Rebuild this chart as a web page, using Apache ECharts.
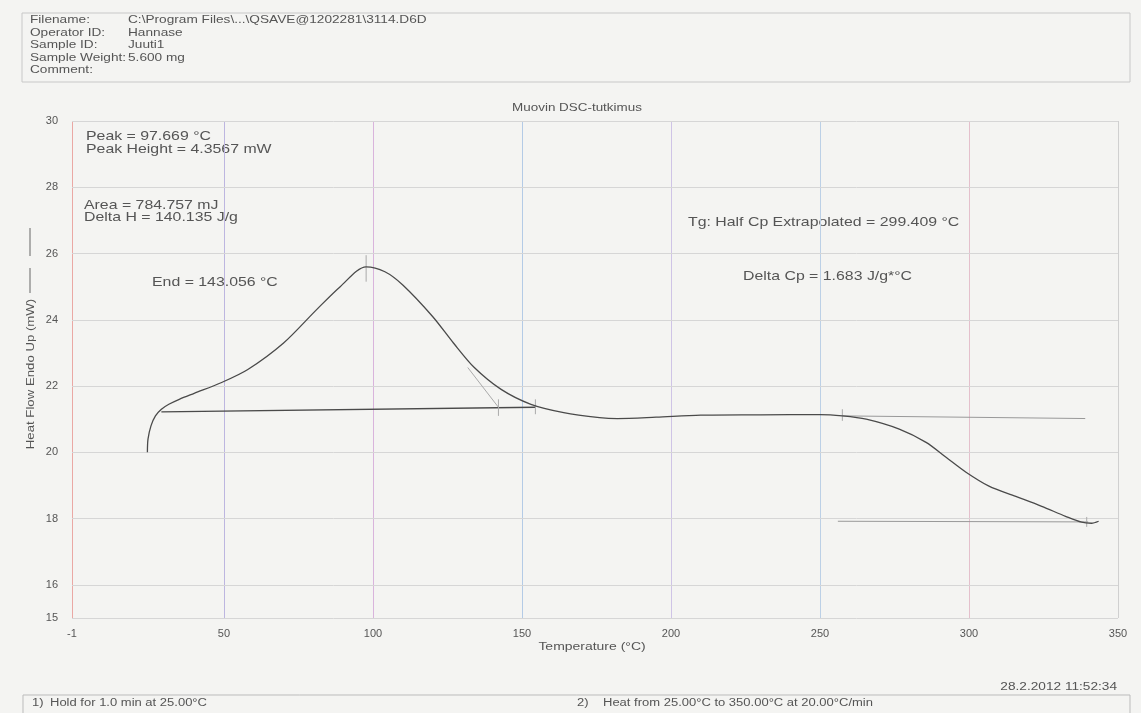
<!DOCTYPE html>
<html>
<head>
<meta charset="utf-8">
<title>Muovin DSC-tutkimus</title>
<script src="https://cdn.jsdelivr.net/npm/echarts@6/dist/echarts.min.js"></script>
<style>
  html, body { margin: 0; padding: 0; background: #f4f4f2; }
  #chart { width: 1141px; height: 713px; }
</style>
</head>
<body>
<div id="chart"></div>
<script>
// heat flow curve (temperature °C, heat flow mW)
var temps = [24.3, 24.5, 25.5, 27, 29, 31.5, 35, 40, 49, 58, 70, 81, 89, 97.7, 104, 110, 120, 127, 134, 143, 153, 164, 176, 182, 195, 210, 230, 250, 257.5, 265.5, 276.6, 285.6, 292.3, 299, 306.7, 315.7, 324.4, 332.4, 337.8, 341.1, 343.5];
var flow = [20.0, 20.4, 20.8, 21.1, 21.3, 21.45, 21.6, 21.78, 22.1, 22.5, 23.3, 24.3, 25.0, 25.6, 25.45, 25.05, 24.1, 23.3, 22.56, 21.9, 21.45, 21.2, 21.05, 21.02, 21.06, 21.12, 21.13, 21.14, 21.1, 21.0, 20.7, 20.3, 19.85, 19.4, 18.98, 18.67, 18.37, 18.07, 17.89, 17.86, 17.92];

// analysis construction lines
var baseline = [[29, 21.22], [154.5, 21.36]];
var endTangent = [[131.8, 22.56], [142.1, 21.36]];
var tgUpper = [[257.5, 21.1], [339, 21.02]];
var tgLower = [[256, 17.92], [340, 17.9]];
var markerTicks = [[97.7, 25.15, 25.95], [142.1, 21.1, 21.6], [154.5, 21.15, 21.6], [257.5, 20.95, 21.3], [339.5, 17.75, 18.05]];

var xTicks = [-1, 50, 100, 150, 200, 250, 300, 350];
var yTicks = [15, 16, 18, 20, 22, 24, 26, 28, 30];
var vGridColors = ['#eaa8a4', '#bdb6e0', '#d9b4dc', '#b4cbe6', '#cfc4e6', '#bcd0e6', '#e4c0cc', '#d0d0d0'];

var headerLabels = ['Filename:', 'Operator ID:', 'Sample ID:', 'Sample Weight:', 'Comment:'];
var headerValues = ['C:\\Program Files\\...\\QSAVE@1202281\\3114.D6D', 'Hannase', 'Juuti1', '5.600 mg', ''];

var font = 'Liberation Sans, Arial, sans-serif';
var textColor = '#555';
var stretch = 1.3; // the printout is stretched horizontally

var myEcharts = echarts.init(document.getElementById('chart'));

var curveData = temps.map(function (t, i) { return [t, flow[i]]; });

var tickSeries = markerTicks.map(function (m) {
  return {
    type: 'line', data: [[m[0], m[1]], [m[0], m[2]]], symbol: 'none', silent: true,
    lineStyle: { color: '#aaa', width: 1 }
  };
});

var gridLinesX = xTicks.map(function (v, i) {
  return { xAxis: v, lineStyle: { color: vGridColors[i], width: 1, type: 'solid' } };
});
var gridLinesY = yTicks.map(function (v) {
  return { yAxis: v, lineStyle: { color: '#d6d6d6', width: 1, type: 'solid' } };
});

function txt(s, x, y, size, align, vAlign, sx) {
  return {
    type: 'text', x: x, y: y, scaleX: sx || stretch, silent: true,
    style: { text: s, font: size + 'px ' + font, fill: textColor, align: align || 'left', verticalAlign: vAlign || 'top' }
  };
}

var graphics = [];
// header box
graphics.push({ type: 'rect', shape: { x: 22, y: 13, width: 1108, height: 69 }, style: { fill: 'none', stroke: '#c8c8c8', lineWidth: 1 } });
headerLabels.forEach(function (l, i) {
  graphics.push(txt(l, 30, 15 + i * 12.5, 10.5));
  graphics.push(txt(headerValues[i], 128, 15 + i * 12.5, 10.5));
});
// title
graphics.push(txt('Muovin DSC-tutkimus', 577, 108, 11, 'center', 'middle', 1.22));
// y axis name and legend marks
graphics.push({ type: 'line', shape: { x1: 30, y1: 228, x2: 30, y2: 256 }, style: { stroke: '#666', lineWidth: 1 } });
graphics.push({ type: 'line', shape: { x1: 30, y1: 268, x2: 30, y2: 293 }, style: { stroke: '#666', lineWidth: 1 } });
var yName = txt('Heat Flow Endo Up (mW)', 31, 374, 11, 'center', 'middle', 1.2);
yName.rotation = Math.PI / 2;
graphics.push(yName);
// x axis name
graphics.push(txt('Temperature (°C)', 592, 647, 10.5, 'center', 'middle', 1.33));
// annotations
var notes = [
  ['Peak = 97.669 °C', 86, 130],
  ['Peak Height = 4.3567 mW', 86, 143],
  ['Area = 784.757 mJ', 84, 199],
  ['Delta H = 140.135 J/g', 84, 211],
  ['End = 143.056 °C', 152, 276],
  ['Tg: Half Cp Extrapolated = 299.409 °C', 688, 216],
  ['Delta Cp = 1.683 J/g*°C', 743, 270]
];
notes.forEach(function (n) {
  graphics.push(txt(n[0], n[1], n[2], 13, 'left', 'top', 1.22));
});
// footer
graphics.push(txt('28.2.2012 11:52:34', 1117, 687, 10.5, 'right', 'middle'));
graphics.push({ type: 'polyline', shape: { points: [[23, 713], [23, 695], [1130, 695], [1130, 713]] }, style: { fill: 'none', stroke: '#bbb', lineWidth: 1 } });
graphics.push(txt('1)', 32, 703, 10, 'left', 'middle'));
graphics.push(txt('Hold for 1.0 min at 25.00°C', 50, 703, 10, 'left', 'middle'));
graphics.push(txt('2)', 577, 703, 10, 'left', 'middle'));
graphics.push(txt('Heat from 25.00°C to 350.00°C at 20.00°C/min', 603, 703, 10, 'left', 'middle'));

var option = {
  backgroundColor: '#f4f4f2',
  animation: false,
  grid: { left: 72, right: 23, top: 121, bottom: 95 },
  xAxis: {
    type: 'value', min: -1, max: 350,
    axisLine: { show: false },
    axisTick: { show: false, customValues: xTicks },
    axisLabel: { customValues: xTicks, fontSize: 11, color: textColor, fontFamily: font, margin: 10 },
    splitLine: { show: false }
  },
  yAxis: {
    type: 'value', min: 15, max: 30,
    axisLine: { show: false },
    axisTick: { show: false, customValues: yTicks },
    axisLabel: { customValues: yTicks, fontSize: 11, color: textColor, fontFamily: font, margin: 14 },
    splitLine: { show: false }
  },
  graphic: graphics,
  series: [
    {
      type: 'line', data: curveData, smooth: 0.3, symbol: 'none', silent: true, z: 5,
      lineStyle: { color: '#4a4a4a', width: 1.3 },
      markLine: {
        silent: true, symbol: 'none', label: { show: false }, z: 1,
        data: gridLinesX.concat(gridLinesY)
      }
    },
    { type: 'line', data: baseline, symbol: 'none', silent: true, lineStyle: { color: '#4a4a4a', width: 1.3 } },
    { type: 'line', data: endTangent, symbol: 'none', silent: true, lineStyle: { color: '#aaa', width: 1 } },
    { type: 'line', data: tgUpper, symbol: 'none', silent: true, lineStyle: { color: '#999', width: 1 } },
    { type: 'line', data: tgLower, symbol: 'none', silent: true, lineStyle: { color: '#999', width: 1 } }
  ].concat(tickSeries)
};

myEcharts.setOption(option);
</script>
</body>
</html>
